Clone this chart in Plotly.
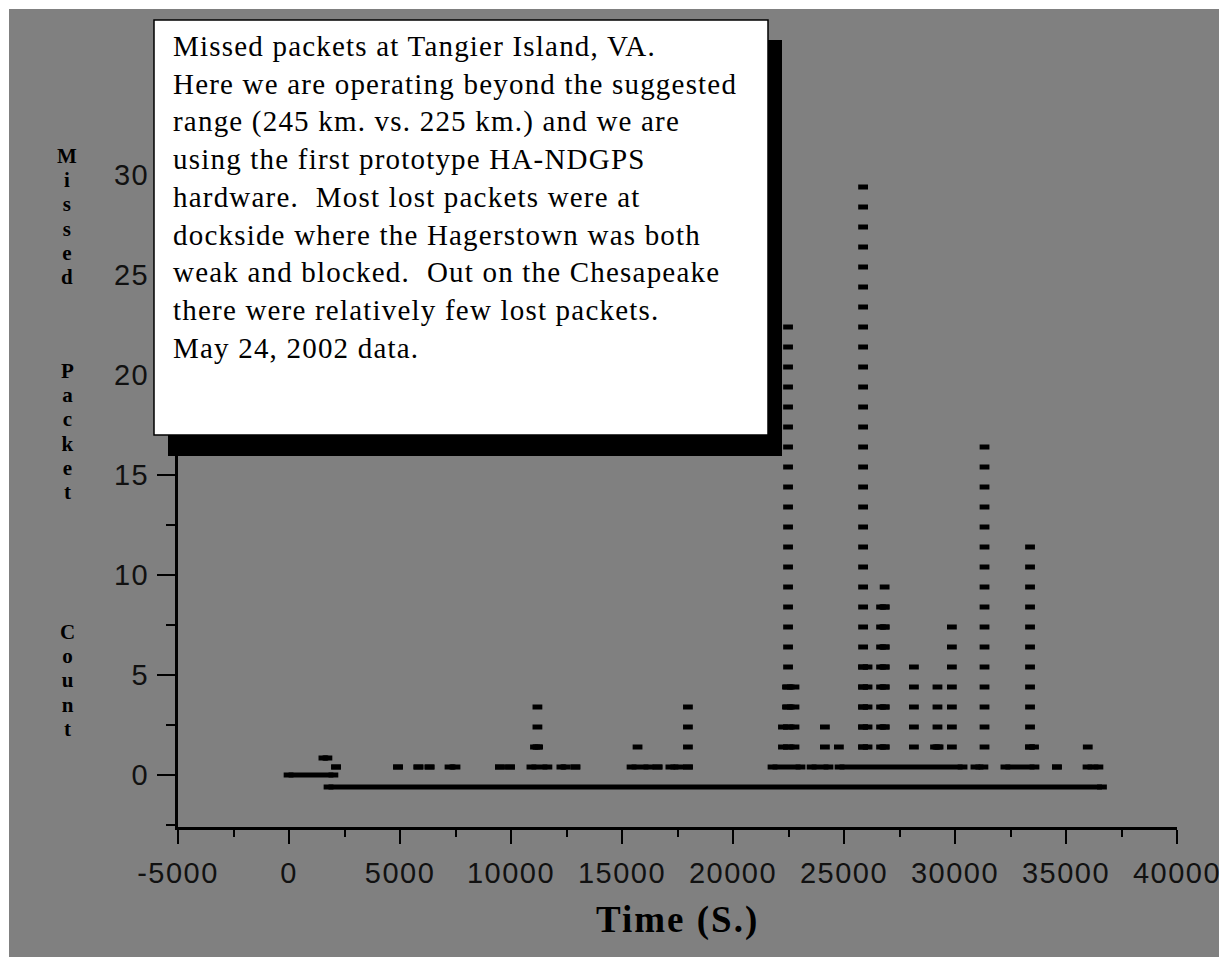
import plotly.graph_objects as go

OFF = 8                      # the page body margin offsets the figure by 8 px
W, H = 1227 - OFF, 957 - OFF
# plot-area box in page pixels
L, R, T, B = 178, 1177, 135, 827


def px(x):
    return (x - L) / (R - L)


def py(y):
    return (B - y) / (B - T)


# ---- data ----
# long runs of consecutive samples: first time, last time (s), plotted level
base_start = [-20, 1550, 1780]
base_end = [2000, 1730, 36620]
base_level = [0.0, 0.85, -0.6]

# lowest count row (level 0.4)
row0_start = [2120, 4910, 5830, 6330, 7230, 9500, 9955, 10920, 12270, 12900, 15430,
              16600, 17180, 17970, 21780, 23540, 24800, 30920, 32270, 34590, 35970]
row0_end = [2120, 4910, 5830, 6330, 7500, 9500, 9955, 11640, 12450, 12900, 16190,
            16600, 17540, 17970, 23040, 24300, 30340, 31280, 33580, 34590, 36460]

# wider (multi-sample) entries inside the spikes
wide_start = [11080, 22430, 22430, 22250, 22250,
              25860, 25860, 25860, 25860, 25860,
              26670, 26670, 26670, 26670, 26670, 26670, 26670, 26670,
              29100, 33380]
wide_end = [11220, 22770, 22770, 22770, 22770,
            26060, 26060, 26060, 26060, 26060,
            26830, 26830, 26830, 26830, 26830, 26830, 26830, 26830,
            29260, 33560]
wide_level = [1.4, 3.4, 4.4, 1.4, 2.4,
              1.4, 2.4, 3.4, 4.4, 5.4,
              1.4, 2.4, 3.4, 4.4, 5.4, 6.4, 7.4, 8.4,
              1.4, 1.4]

# spikes: time (s) and top plotted level (points at every level from 1.4 up)
spike_time = [11190, 15700, 17970, 22480, 24140, 24770, 25860, 26830, 28150,
              29210, 29860, 31330, 33380, 35980]
spike_top = [3.4, 1.4, 3.4, 22.4, 2.4, 1.4, 29.4, 9.4, 5.4,
             4.4, 7.4, 16.4, 11.4, 1.4]

x_ticks = [-5000, 0, 5000, 10000, 15000, 20000, 25000, 30000, 35000, 40000]
x_tick_text = ["-5000", "0", "5000", "10000", "15000", "20000", "25000", "30000",
               "35000", "40000"]
y_ticks = [0, 5, 10, 15, 20, 25, 30]
y_tick_text = ["0", "5", "10", "15", "20", "25", "30"]

note_lines = [
    "Missed packets at Tangier Island, VA.",
    "Here we are operating beyond the suggested",
    "range (245 km. vs. 225 km.) and we are",
    "using the first prototype HA-NDGPS",
    "hardware.  Most lost packets were at",
    "dockside where the Hagerstown was both",
    "weak and blocked.  Out on the Chesapeake",
    "there were relatively few lost packets.",
    "May 24, 2002 data.",
]
x_title = "Time (S.)"
y_title_words = ["Missed", "Packet", "Count"]

# ---- build traces ----
run_x, run_y = [], []
for s_list, e_list, lv in [
    (base_start, base_end, base_level),
    (row0_start, row0_end, [0.4] * len(row0_start)),
    (wide_start, wide_end, wide_level),
]:
    for s, e, v in zip(s_list, e_list, lv):
        run_x += [s, e, None]
        run_y += [v, v, None]

sp_x, sp_y = [], []
for t, top in zip(spike_time, spike_top):
    lvl = 1.4
    while lvl <= top + 1e-6:
        sp_x.append(t)
        sp_y.append(round(lvl, 2))
        lvl += 1.0

mk = dict(symbol="line-ew", size=7, color="black", line=dict(width=5, color="black"))

fig = go.Figure()
fig.add_trace(go.Scatter(x=run_x, y=run_y, mode="lines+markers",
                         line=dict(color="black", width=5), marker=mk,
                         hoverinfo="skip", showlegend=False))
fig.add_trace(go.Scatter(x=sp_x, y=sp_y, mode="markers", marker=mk,
                         hoverinfo="skip", showlegend=False))


def spaced(s, sp):
    return "<span style='letter-spacing:%spx'>%s</span>" % (sp, s)


tickfont = dict(family="Liberation Sans, Arial", size=29, color="#111111")
fig.update_layout(
    width=W, height=H,
    margin=dict(l=L - OFF, r=1227 - R, t=T - OFF, b=957 - B, autoexpand=False),
    paper_bgcolor="#808080", plot_bgcolor="#808080",
    xaxis=dict(range=[-5000, 40000], tickvals=x_ticks,
               ticktext=[spaced(s, 1.5) for s in x_tick_text], automargin=False,
               ticks="outside", ticklen=14, ticklabelstandoff=4,
               tickwidth=2, tickcolor="black", showline=True, linecolor="black",
               linewidth=3, showgrid=False, zeroline=False, tickfont=tickfont,
               minor=dict(dtick=2500, tick0=0, ticks="outside", ticklen=7,
                          tickwidth=2, tickcolor="black")),
    yaxis=dict(range=[-2.6, 32], tickvals=y_ticks,
               ticktext=[spaced(s, 1.5) for s in y_tick_text], automargin=False,
               ticks="outside", ticklen=18, ticklabelstandoff=2,
               tickwidth=2, tickcolor="black", showline=True, linecolor="black",
               linewidth=3, showgrid=False, zeroline=False, tickfont=tickfont,
               minor=dict(dtick=2.5, tick0=0, ticks="outside", ticklen=9,
                          tickwidth=2, tickcolor="black")),
)

shapes = []
# thin extra white edge (top, left) on top of the page margin
shapes.append(dict(type="rect", xref="paper", yref="paper", x0=px(0), x1=px(1227),
                   y0=py(OFF), y1=py(OFF + 1), fillcolor="white", line=dict(width=0),
                   layer="above"))
shapes.append(dict(type="rect", xref="paper", yref="paper", x0=px(OFF), x1=px(OFF + 1),
                   y0=py(OFF), y1=py(957), fillcolor="white", line=dict(width=0),
                   layer="above"))
# note box shadow and box
shapes.append(dict(type="rect", xref="paper", yref="paper", x0=px(168), x1=px(782),
                   y0=py(40), y1=py(456), fillcolor="black", line=dict(width=0),
                   layer="above"))
shapes.append(dict(type="rect", xref="paper", yref="paper", x0=px(154), x1=px(768),
                   y0=py(20), y1=py(435), fillcolor="white",
                   line=dict(width=1.5, color="black"), layer="above"))

serif = "Liberation Serif, Times New Roman"
annotations = []
annotations.append(dict(
    xref="paper", yref="paper", x=px(171), y=py(28), xanchor="left",
    yanchor="top", align="left", showarrow=False,
    text="<br>".join(spaced(s, 1.2) for s in note_lines),
    font=dict(family=serif, size=29, color="black")))
annotations.append(dict(
    xref="paper", yref="paper", x=px(677), y=py(920), xanchor="center",
    yanchor="middle", showarrow=False,
    text=spaced(x_title, 2),
    font=dict(family=serif, size=37, color="black", weight="bold")))
# vertical, letter-stacked y title: one text per word (line pitch 1.3 * 18.6 px)
word_center = [216, 431, 680]
for word, yc in zip(y_title_words, word_center):
    annotations.append(dict(
        xref="paper", yref="paper", x=px(67), y=py(yc), xanchor="center",
        yanchor="middle", align="center", showarrow=False,
        text="<br>".join("<span style='font-size:21px'>%s</span>" % ch for ch in word),
        font=dict(family=serif, size=18.6, color="black", weight="bold")))

fig.update_layout(shapes=shapes, annotations=annotations)
fig.write_html("out.html")
